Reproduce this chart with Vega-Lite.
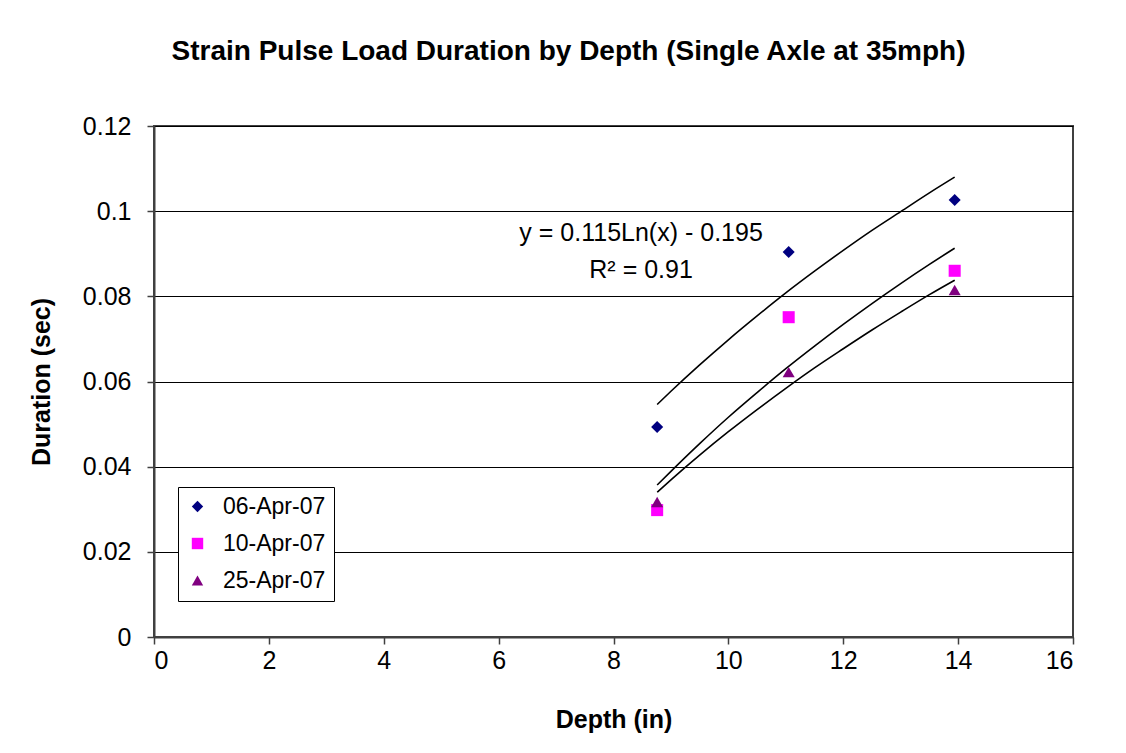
{
  "$schema": "https://vega.github.io/schema/vega-lite/v6.json",
  "autosize": {"type": "none"},
  "width": 919,
  "height": 511,
  "padding": {"left": 154, "top": 126, "right": 53, "bottom": 116},
  "background": "white",
  "config": {
    "font": "Liberation Sans",
    "view": {"stroke": "#404040", "strokeWidth": 2},
    "axis": {"labelFont": "Liberation Sans", "titleFont": "Liberation Sans", "labelFontSize": 25, "titleFontSize": 25, "titleFontWeight": "bold", "labelColor": "black", "titleColor": "black", "tickColor": "#404040", "domainColor": "#404040", "domainWidth": 2, "tickSize": 7, "tickWidth": 1.5}
  },
  "title": {"text": "Strain Pulse Load Duration by Depth (Single Axle at 35mph)", "font": "Liberation Sans", "fontSize": 28, "fontWeight": "bold", "color": "black", "anchor": "middle", "dx": -45, "offset": 48},
  "datasets": {
    "pts": [
      {"depth": 8.76, "duration": 0.0493, "date": "06-Apr-07"},
      {"depth": 11.05, "duration": 0.0904, "date": "06-Apr-07"},
      {"depth": 13.94, "duration": 0.1026, "date": "06-Apr-07"},
      {"depth": 8.76, "duration": 0.0298, "date": "10-Apr-07"},
      {"depth": 11.05, "duration": 0.0751, "date": "10-Apr-07"},
      {"depth": 13.94, "duration": 0.0860, "date": "10-Apr-07"},
      {"depth": 8.76, "duration": 0.0317, "date": "25-Apr-07"},
      {"depth": 11.05, "duration": 0.0622, "date": "25-Apr-07"},
      {"depth": 13.94, "duration": 0.0815, "date": "25-Apr-07"}
    ],
    "trend": [
      {"depth": 8.76, "duration": 0.0546, "date": "06-Apr-07"},
      {"depth": 9.0, "duration": 0.0577, "date": "06-Apr-07"},
      {"depth": 9.5, "duration": 0.0639, "date": "06-Apr-07"},
      {"depth": 10.0, "duration": 0.0698, "date": "06-Apr-07"},
      {"depth": 10.5, "duration": 0.0754, "date": "06-Apr-07"},
      {"depth": 11.0, "duration": 0.0808, "date": "06-Apr-07"},
      {"depth": 11.5, "duration": 0.0859, "date": "06-Apr-07"},
      {"depth": 12.0, "duration": 0.0908, "date": "06-Apr-07"},
      {"depth": 12.5, "duration": 0.0955, "date": "06-Apr-07"},
      {"depth": 13.0, "duration": 0.0999, "date": "06-Apr-07"},
      {"depth": 13.5, "duration": 0.1043, "date": "06-Apr-07"},
      {"depth": 13.94, "duration": 0.1080, "date": "06-Apr-07"},
      {"depth": 8.76, "duration": 0.0357, "date": "10-Apr-07"},
      {"depth": 9.0, "duration": 0.0389, "date": "10-Apr-07"},
      {"depth": 9.5, "duration": 0.0454, "date": "10-Apr-07"},
      {"depth": 10.0, "duration": 0.0516, "date": "10-Apr-07"},
      {"depth": 10.5, "duration": 0.0574, "date": "10-Apr-07"},
      {"depth": 11.0, "duration": 0.0630, "date": "10-Apr-07"},
      {"depth": 11.5, "duration": 0.0683, "date": "10-Apr-07"},
      {"depth": 12.0, "duration": 0.0734, "date": "10-Apr-07"},
      {"depth": 12.5, "duration": 0.0783, "date": "10-Apr-07"},
      {"depth": 13.0, "duration": 0.0830, "date": "10-Apr-07"},
      {"depth": 13.5, "duration": 0.0875, "date": "10-Apr-07"},
      {"depth": 13.94, "duration": 0.0913, "date": "10-Apr-07"},
      {"depth": 8.76, "duration": 0.0340, "date": "25-Apr-07"},
      {"depth": 9.0, "duration": 0.0369, "date": "25-Apr-07"},
      {"depth": 9.5, "duration": 0.0427, "date": "25-Apr-07"},
      {"depth": 10.0, "duration": 0.0482, "date": "25-Apr-07"},
      {"depth": 10.5, "duration": 0.0534, "date": "25-Apr-07"},
      {"depth": 11.0, "duration": 0.0584, "date": "25-Apr-07"},
      {"depth": 11.5, "duration": 0.0632, "date": "25-Apr-07"},
      {"depth": 12.0, "duration": 0.0677, "date": "25-Apr-07"},
      {"depth": 12.5, "duration": 0.0721, "date": "25-Apr-07"},
      {"depth": 13.0, "duration": 0.0763, "date": "25-Apr-07"},
      {"depth": 13.5, "duration": 0.0804, "date": "25-Apr-07"},
      {"depth": 13.94, "duration": 0.0838, "date": "25-Apr-07"}
    ],
    "notes": [
      {"depth": 8.48, "duration": 0.0949, "label": "y = 0.115Ln(x) - 0.195"},
      {"depth": 8.48, "duration": 0.0862, "label": "R² = 0.91"}
    ]
  },
  "layer": [
    {
      "data": {"name": "trend"},
      "mark": {"type": "line", "color": "black", "strokeWidth": 1.6, "interpolate": "monotone"},
      "encoding": {
        "x": {"field": "depth", "type": "quantitative", "scale": {"domain": [0, 16], "nice": false}, "axis": {"title": "Depth (in)", "format": "d", "values": [0, 2, 4, 6, 8, 10, 12, 14, 16], "grid": false, "labelPadding": 4, "titlePadding": 34}},
        "y": {"field": "duration", "type": "quantitative", "scale": {"domain": [0, 0.12], "nice": false}, "axis": {"title": "Duration (sec)", "format": "~g", "values": [0, 0.02, 0.04, 0.06, 0.08, 0.1, 0.12], "grid": true, "gridColor": "black", "gridWidth": 1, "labelPadding": 16, "titlePadding": 28}},
        "detail": {"field": "date"}
      }
    },
    {
      "data": {"name": "pts"},
      "mark": {"type": "point", "filled": true, "opacity": 1, "size": 145},
      "encoding": {
        "x": {"field": "depth", "type": "quantitative"},
        "y": {"field": "duration", "type": "quantitative"},
        "color": {"field": "date", "type": "nominal", "scale": {"domain": ["06-Apr-07", "10-Apr-07", "25-Apr-07"], "range": ["#000080", "#FF00FF", "#800080"]}, "legend": {"title": null, "orient": "none", "legendX": 24, "legendY": 361, "labelFontSize": 23, "labelFont": "Liberation Sans", "labelColor": "black", "strokeColor": "black", "fillColor": "white", "padding": 8, "rowPadding": 13, "symbolSize": 130, "labelOffset": 14, "symbolOpacity": 1}},
        "shape": {"field": "date", "type": "nominal", "scale": {"domain": ["06-Apr-07", "10-Apr-07", "25-Apr-07"], "range": ["diamond", "square", "triangle-up"]}}
      }
    },
    {
      "data": {"name": "notes"},
      "mark": {"type": "text", "font": "Liberation Sans", "fontSize": 25, "color": "black", "align": "center", "baseline": "middle"},
      "encoding": {
        "x": {"field": "depth", "type": "quantitative"},
        "y": {"field": "duration", "type": "quantitative"},
        "text": {"field": "label"}
      }
    }
  ]
}
